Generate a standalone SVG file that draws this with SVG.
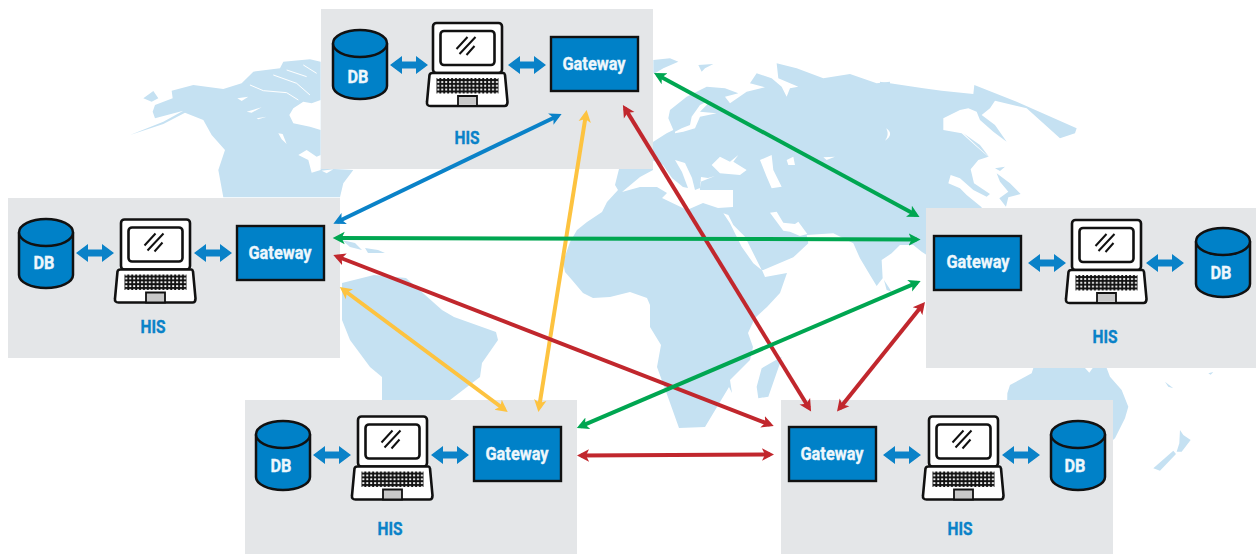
<svg xmlns="http://www.w3.org/2000/svg" width="1256" height="554" viewBox="0 0 1256 554">
<style>
.land{fill:#c5e1f2;stroke:none}
.sea{fill:#fff;stroke:none}
.chan{fill:none;stroke:#fff;stroke-width:3}
.panel{fill:#e4e6e8}
.gw{fill:#0081c8;stroke:#111;stroke-width:2.4}
.gt{font:700 18px Roboto,"Liberation Sans",sans-serif;fill:#eef7fc;stroke:#eef7fc;stroke-width:.35;text-anchor:middle}
.his{font:700 18px Roboto,"Liberation Sans",sans-serif;fill:#0a82c8;stroke:#0a82c8;stroke-width:.35;text-anchor:middle}
.c{fill:none;stroke-width:4}
.blue{stroke:#0a82c8;marker-start:url(#mb);marker-end:url(#mb)}
.yellow{stroke:#fdc340;marker-start:url(#my);marker-end:url(#my)}
.red{stroke:#c1272d;marker-start:url(#mr);marker-end:url(#mr)}
.green{stroke:#00a651;marker-start:url(#mg);marker-end:url(#mg)}
</style>
<defs>
<marker id="mb" markerUnits="userSpaceOnUse" markerWidth="16" markerHeight="14" refX="8" refY="7" orient="auto-start-reverse"><path d="M0,.8 L12,7 L0,13.2 L3,7Z" fill="#0a82c8"/></marker>
<marker id="my" markerUnits="userSpaceOnUse" markerWidth="16" markerHeight="14" refX="8" refY="7" orient="auto-start-reverse"><path d="M0,.8 L12,7 L0,13.2 L3,7Z" fill="#fdc340"/></marker>
<marker id="mr" markerUnits="userSpaceOnUse" markerWidth="16" markerHeight="14" refX="8" refY="7" orient="auto-start-reverse"><path d="M0,.8 L12,7 L0,13.2 L3,7Z" fill="#c1272d"/></marker>
<marker id="mg" markerUnits="userSpaceOnUse" markerWidth="16" markerHeight="14" refX="8" refY="7" orient="auto-start-reverse"><path d="M0,.8 L12,7 L0,13.2 L3,7Z" fill="#00a651"/></marker>
<pattern id="keys" width="3.9" height="3.8" patternUnits="userSpaceOnUse"><rect width="3.9" height="3.8" fill="#111"/><rect x="1.100" y="1.100" width="2" height="1.800" fill="#fff"/></pattern>
<g id="dbl"><path d="M0,0 L12,-9 L12,-3.500 L26,-3.500 L26,-9 L38,0 L26,9 L26,3.500 L12,3.500 L12,9Z" fill="#0a82c8"/></g>
<g id="cyl"><path d="M0,13.500 V56 C0,63 12,69 27,69 C42,69 54,63 54,56 V13.500" fill="#0081c8" stroke="#111" stroke-width="2.500"/><ellipse cx="27" cy="13.500" rx="27" ry="13.500" fill="#0081c8" stroke="#111" stroke-width="2.500"/></g>
<g id="laptop">
<rect x="-34.500" y="0" width="69" height="50" rx="3.500" fill="#fff" stroke="#111" stroke-width="2.600"/>
<rect x="-27" y="8" width="54" height="34" rx="3.500" fill="#fff" stroke="#111" stroke-width="2.600"/>
<path d="M-11,26 L0,14 M-8,31 L8,14 M-1,32 L7,23" fill="none" stroke="#111" stroke-width="2"/>
<path d="M-35,50 H36 Q37,50 37.500,52 L40,79 Q40,83 37,83 H-37 Q-41,83 -40.500,79 L-38,52 Q-37.500,50 -35,50Z" fill="#fff" stroke="#111" stroke-width="2.600"/>
<rect x="-31" y="55" width="62" height="15.500" fill="url(#keys)"/>
<path d="M-9.500,73 H9.500 V83 H-9.500Z" fill="#c8c8c8" stroke="#111" stroke-width="1.800"/>
</g>
</defs>
<rect width="1256" height="554" fill="#fff"/>
<g id="map">
<g transform="translate(130 20) scale(.3333)">
<path class="land" d="M0,345 L100,305 L160,272 L75,295 L68,275 L75,255 L128,235 L125,212 L190,195 L280,207 L335,190 L370,155 L450,145 L460,125 L540,118 L572,125 L572,445 L670,450 L640,490 L630,532 L280,532 L265,450 L285,390 L245,345 L220,300 L165,278 L100,312Z M40,235 L70,213 L85,235 L65,245Z"/>
<path class="sea" d="M478,285 L490,265 L520,245 L545,250 L572,240 L572,330 L540,320 L490,310Z M505,405 L530,390 L560,410 L572,405 L572,450 L545,458 L535,420Z M575,452 L610,448 L590,460Z M322,235 L355,230 L335,243Z M350,275 L395,262 L365,278Z M380,295 L410,290 L385,298Z M445,340 L458,342 L470,372 L455,358Z"/>
<path class="chan" d="M360,195 L400,212 L470,218 L505,240 M430,165 L500,190 L540,225 M470,150 L530,170 M520,135 L560,160"/>
</g>
<path class="land" d="M342,240 L355,243 L362,250 L350,247Z M365,248 L378,250 L385,253 L368,253Z"/>
<path class="land" d="M342,283 L374,275 L406,278 L442,310 L454,317 L496,332 L498,340 L482,363 L480,377 L450,400 L382,400 L382,377 L370,367 L350,340 L342,320Z"/>
<path class="land" d="M620,165 L615,185 L618,190 L607,202 L602,212 L587,222 L577,230 L570,242 L563,262 L565,272 L572,280 L583,293 L593,298 L610,297 L630,292 L647,298 L650,305 L650,327 L661,345 L657,367 L669,400 L679,428 L705,427 L729,387 L732,393 L730,380 L750,360 L753,347 L748,333 L755,318 L767,307 L780,293 L787,273 L765,277 L762,270 L741,247 L730,223 L723,213 L723,160Z"/>
<g transform="translate(650 50) scale(.3333)">
<path class="land" d="M0,280 L10,275 L50,250 L70,240 L55,205 L60,180 L110,140 L170,110 L225,115 L265,130 L225,140 L240,160 L290,125 L345,112 L300,100 L320,70 L365,85 L395,110 L410,140 L420,115 L445,110 L385,85 L380,40 L440,55 L520,85 L600,72 L680,100 L720,95 L720,500 L0,500Z M145,45 L190,42 L165,55 L155,65Z M10,30 L60,25 L85,35 L40,55 L15,70 L10,70Z"/>
</g>
<g transform="translate(880 70) scale(.3333)">
<path class="land" d="M0,35 L130,55 L185,62 L280,72 L283,45 L410,95 L590,175 L585,190 L540,205 L440,115 L345,92 L330,115 L305,135 L345,165 L380,215 L340,185 L300,150 L290,125 L265,115 L240,120 L190,145 L190,180 L245,190 L290,230 L325,260 L295,270 L272,298 L282,340 L330,372 L320,380 L280,360 L240,325 L212,315 L205,340 L240,355 L260,375 L305,412 L305,500 L0,500Z"/>
<path class="land" d="M345,295 L375,290 L360,303Z M350,310 L390,340 L422,372 L385,382 L378,410 L358,385 L385,365 L360,335Z M250,190 L300,225 L328,262 L295,232Z"/>
<path class="sea" d="M18,175 C35,185 35,200 15,212 C25,200 25,185 18,175Z"/>
</g>
<g transform="translate(700 200) scale(.3333)">
<path class="land" d="M0,0 L690,0 L680,165 L665,155 L640,135 L600,135 L575,160 L545,180 L548,235 L530,258 L510,225 L480,175 L460,130 L400,100 L320,105 L325,130 L280,172 L190,210 L0,210Z"/>
<path class="land" d="M552,240 L575,275 L560,270Z M245,470 L240,490 L205,590 L175,595 L170,560 L185,505Z"/>
<path class="sea" d="M70,40 L85,45 L100,75 L135,110 L185,210 L160,190 L125,140 L90,70Z M210,38 L230,35 L250,68 L285,72 L295,65 L322,102 L300,108 L270,95 L250,92Z"/>
</g>
<path class="sea" d="M622,192 L640,177 L653,170 L652,160 L663,165 L672,178 L683,187 L688,188 L682,172 L675,160 L685,163 L692,178 L695,190 L700,188 L701,177 L708,178 L715,176 L700,182 L700,190 L712,190 L733,190 L733,207 L718,208 L703,203 L687,210 L662,198 L667,193 L657,187 L640,187Z"/>
<g transform="translate(650 50) scale(.3333)">
<path class="sea" d="M75,245 L95,235 L120,225 L125,200 L150,165 L180,150 L170,165 L150,185 L200,190 L150,200 L135,235 L100,245 L75,250Z M185,345 L210,320 L240,335 L265,315 L250,335 L290,360 L270,375 L210,370Z M330,330 L365,315 L370,360 L395,410 L365,415 L350,380Z M410,330 L430,320 L435,345 L415,345Z M520,322 L555,320 L530,330Z"/>
</g>
<g transform="translate(1000 360) scale(.3333)">
<path class="land" d="M100,24 L320,24 L330,50 L365,90 L385,140 L375,175 L345,235 L339,240 L20,240 L22,100 L30,75 L95,40Z"/>
<path class="sea" d="M255,24 L278,24 L268,38Z"/>
<path class="land" d="M540,210 L550,225 L572,240 L545,275 L530,275 L538,250Z M520,272 L528,282 L480,332 L460,325Z M495,65 L520,85 L505,80Z M625,40 L640,36 L632,44Z"/>
</g>
</g>
<g id="node-top">
<rect class="panel" x="321" y="9" width="332" height="160"/>
<use href="#cyl" x="333" y="30"/>
<text class="gt" x="358" y="83" textLength="21" lengthAdjust="spacingAndGlyphs">DB</text>
<use href="#dbl" x="390" y="65"/>
<use href="#laptop" x="467.500" y="23"/>
<use href="#dbl" x="508" y="65"/>
<rect class="gw" x="551" y="37" width="87" height="54"/>
<text class="gt" x="594" y="70" textLength="63" lengthAdjust="spacingAndGlyphs">Gateway</text>
<text class="his" x="467" y="144" textLength="25" lengthAdjust="spacingAndGlyphs">HIS</text>
</g>
<g id="node-left">
<rect class="panel" x="8" y="198" width="332" height="160"/>
<use href="#cyl" x="19" y="219"/>
<text class="gt" x="44" y="269" textLength="21" lengthAdjust="spacingAndGlyphs">DB</text>
<use href="#dbl" x="76" y="253"/>
<use href="#laptop" x="155.500" y="219.500"/>
<use href="#dbl" x="194" y="253"/>
<rect class="gw" x="237" y="226" width="87" height="54"/>
<text class="gt" x="280" y="259" textLength="63" lengthAdjust="spacingAndGlyphs">Gateway</text>
<text class="his" x="153" y="333" textLength="25" lengthAdjust="spacingAndGlyphs">HIS</text>
</g>
<g id="node-right">
<rect class="panel" x="926" y="208" width="330" height="160"/>
<rect class="gw" x="934" y="236" width="87" height="54"/>
<text class="gt" x="978" y="268" textLength="63" lengthAdjust="spacingAndGlyphs">Gateway</text>
<use href="#dbl" x="1028" y="263"/>
<use href="#laptop" x="1106.500" y="220"/>
<use href="#dbl" x="1146" y="263"/>
<use href="#cyl" x="1196" y="228"/>
<text class="gt" x="1221" y="279" textLength="21" lengthAdjust="spacingAndGlyphs">DB</text>
<text class="his" x="1105" y="343" textLength="25" lengthAdjust="spacingAndGlyphs">HIS</text>
</g>
<g id="node-bottom-left">
<rect class="panel" x="245" y="400" width="332" height="154"/>
<use href="#cyl" x="256" y="421"/>
<text class="gt" x="281" y="472" textLength="21" lengthAdjust="spacingAndGlyphs">DB</text>
<use href="#dbl" x="313" y="455"/>
<use href="#laptop" x="392.500" y="416.500"/>
<use href="#dbl" x="431" y="455"/>
<rect class="gw" x="474" y="427" width="87" height="54"/>
<text class="gt" x="517" y="460" textLength="63" lengthAdjust="spacingAndGlyphs">Gateway</text>
<text class="his" x="390" y="535" textLength="25" lengthAdjust="spacingAndGlyphs">HIS</text>
</g>
<g id="node-bottom-right">
<rect class="panel" x="781" y="400" width="332" height="154"/>
<rect class="gw" x="789" y="427" width="87" height="54"/>
<text class="gt" x="832" y="460" textLength="63" lengthAdjust="spacingAndGlyphs">Gateway</text>
<use href="#dbl" x="883" y="455"/>
<use href="#laptop" x="963.500" y="416.500"/>
<use href="#dbl" x="1002" y="455"/>
<use href="#cyl" x="1051" y="421"/>
<text class="gt" x="1075" y="472" textLength="21" lengthAdjust="spacingAndGlyphs">DB</text>
<text class="his" x="960" y="535" textLength="25" lengthAdjust="spacingAndGlyphs">HIS</text>
</g>
<g id="connectors">
<line class="c blue" x1="558" y1="115.700" x2="337" y2="222"/>
<line class="c yellow" x1="586" y1="114" x2="539" y2="408"/>
<line class="c red" x1="625" y1="108.400" x2="809" y2="408"/>
<line class="c green" x1="657.500" y1="75" x2="916" y2="215"/>
<line class="c green" x1="336.700" y1="238" x2="916.600" y2="239.500"/>
<line class="c red" x1="337" y1="256.500" x2="770" y2="424.600"/>
<line class="c yellow" x1="343" y1="289.500" x2="504.500" y2="409.500"/>
<line class="c green" x1="917" y1="282.600" x2="580.500" y2="426.400"/>
<line class="c red" x1="922.500" y1="305" x2="839.500" y2="408.500"/>
<line class="c red" x1="581" y1="455.500" x2="770" y2="454.500"/>
</g>
</svg>
